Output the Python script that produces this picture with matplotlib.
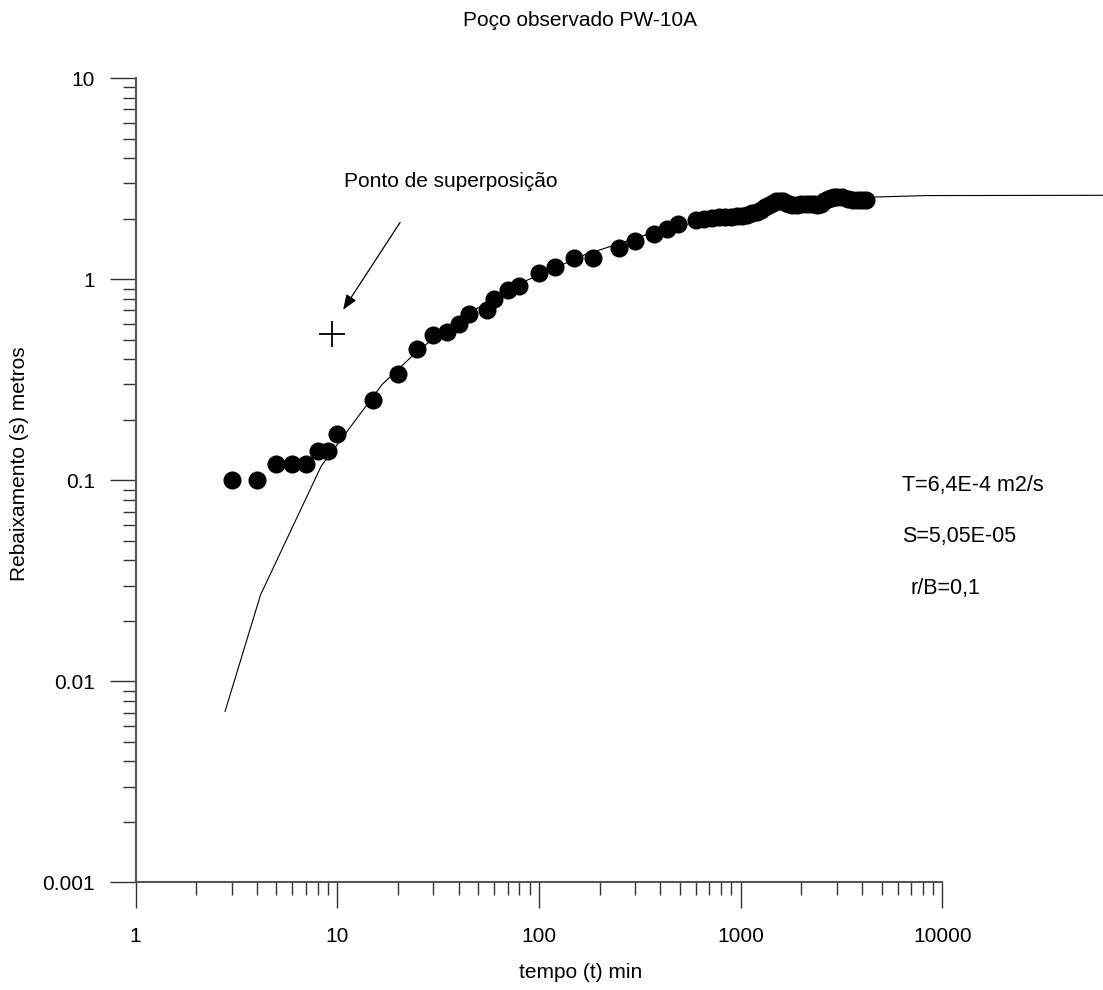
import matplotlib
matplotlib.use("Agg")
import matplotlib.pyplot as plt
from matplotlib.ticker import LogLocator, FixedFormatter, FixedLocator, NullFormatter

plt.rcParams['font.family'] = ['Liberation Sans', 'DejaVu Sans']

# dados observados (tempo em min, rebaixamento em m)
tempo = [3, 4, 5, 6, 7, 8, 9, 10, 15, 20, 25, 30, 35, 40, 45, 55, 60, 70, 80,
         100, 120, 150, 185, 250, 300, 370, 430, 490, 600, 660, 720, 780, 840,
         900, 960, 1020, 1080, 1140, 1200, 1260, 1320, 1380, 1440, 1500, 1560,
         1620, 1680, 1740, 1800, 1900, 2000, 2100, 2200, 2300, 2400, 2500, 2600,
         2700, 2800, 2900, 3000, 3200, 3400, 3600, 3800, 4000, 4200]
rebaixamento = [0.10, 0.10, 0.12, 0.12, 0.12, 0.14, 0.14, 0.17, 0.25, 0.34, 0.45,
                0.53, 0.55, 0.60, 0.67, 0.70, 0.80, 0.89, 0.93, 1.07, 1.15, 1.28,
                1.28, 1.44, 1.55, 1.68, 1.79, 1.88, 1.97, 1.99, 2.02, 2.04, 2.05,
                2.05, 2.06, 2.07, 2.10, 2.13, 2.17, 2.22, 2.28, 2.34, 2.40, 2.44,
                2.46, 2.44, 2.40, 2.37, 2.35, 2.34, 2.36, 2.38, 2.38, 2.36, 2.35,
                2.38, 2.44, 2.50, 2.54, 2.56, 2.57, 2.56, 2.52, 2.49, 2.48, 2.48,
                2.48]

# curva tipo (Hantush r/B=0,1)
curva_t = [2.78, 4.17, 8.34, 16.7, 25, 41.7, 83.4, 167, 417, 834, 1668, 4170,
           8340, 83400]
curva_s = [0.0071, 0.027, 0.118, 0.30, 0.44, 0.65, 0.97, 1.32, 1.78, 2.05,
           2.33, 2.56, 2.61, 2.62]

ponto_sup = (9.47, 0.532)

x_ticks = [1, 10, 100, 1000, 10000]
x_labels = ['1', '10', '100', '1000', '10000']
y_ticks = [0.001, 0.01, 0.1, 1, 10]
y_labels = ['0.001', '0.01', '0.1', '1', '10']

fig = plt.figure(figsize=(11.03, 9.9), dpi=100)
ax = fig.add_axes([0.12285, 0.10859, 0.73146, 0.81232])
ax.set_xscale('log')
ax.set_yscale('log')
ax.set_xlim(1, 10000)
ax.set_ylim(0.001, 10)

ax.plot(curva_t, curva_s, color='black', lw=0.8, clip_on=False, zorder=2)
ax.plot(tempo, rebaixamento, 'o', color='black', markersize=12, zorder=3)
ax.plot(*ponto_sup, marker='+', color='black', markersize=19, mew=1.3, zorder=3)

ax.annotate('', xy=(10.7, 0.706), xytext=(20.5, 1.92),
            arrowprops=dict(arrowstyle='-|>,head_length=0.9,head_width=0.35',
                            color='black', lw=0.9, shrinkA=0, shrinkB=0))
ax.text(36.5, 3.06, 'Ponto de superposição', fontsize=15, ha='center', va='center')

ax.text(6340, 0.094, 'T=6,4E-4 m2/s', fontsize=15.5, ha='left', va='center')
ax.text(6340, 0.0525, 'S=5,05E-05', fontsize=15.5, ha='left', va='center')
ax.text(6940, 0.0289, 'r/B=0,1', fontsize=15.5, ha='left', va='center')

for side in ['top', 'right']:
    ax.spines[side].set_visible(False)
for side in ['left', 'bottom']:
    ax.spines[side].set_color('#555555')
    ax.spines[side].set_linewidth(1.5)

ax.xaxis.set_major_locator(FixedLocator(x_ticks))
ax.xaxis.set_major_formatter(FixedFormatter(x_labels))
ax.yaxis.set_major_locator(FixedLocator(y_ticks))
ax.yaxis.set_major_formatter(FixedFormatter(y_labels))
ax.xaxis.set_minor_locator(LogLocator(base=10, subs=range(2, 10), numticks=20))
ax.yaxis.set_minor_locator(LogLocator(base=10, subs=range(2, 10), numticks=20))
ax.xaxis.set_minor_formatter(NullFormatter())
ax.yaxis.set_minor_formatter(NullFormatter())

ax.tick_params(which='major', direction='out', length=19, width=1.0,
               color='#333333', labelsize=15)
ax.tick_params(which='minor', direction='out', length=9.5, width=1.0,
               color='#333333')
ax.tick_params(axis='y', which='major', pad=10)
ax.tick_params(axis='x', which='major', pad=13)

fig.text(580 / 1103, 1 - 20 / 990, 'Poço observado PW-10A', fontsize=15,
         ha='center', va='center')
fig.text(581 / 1103, 1 - 973 / 990, 'tempo (t) min', fontsize=15,
         ha='center', va='center')
fig.text(20 / 1103, 1 - 464 / 990, 'Rebaixamento (s) metros', fontsize=15,
         ha='center', va='center', rotation=90)

fig.savefig('out.png', dpi=100)
